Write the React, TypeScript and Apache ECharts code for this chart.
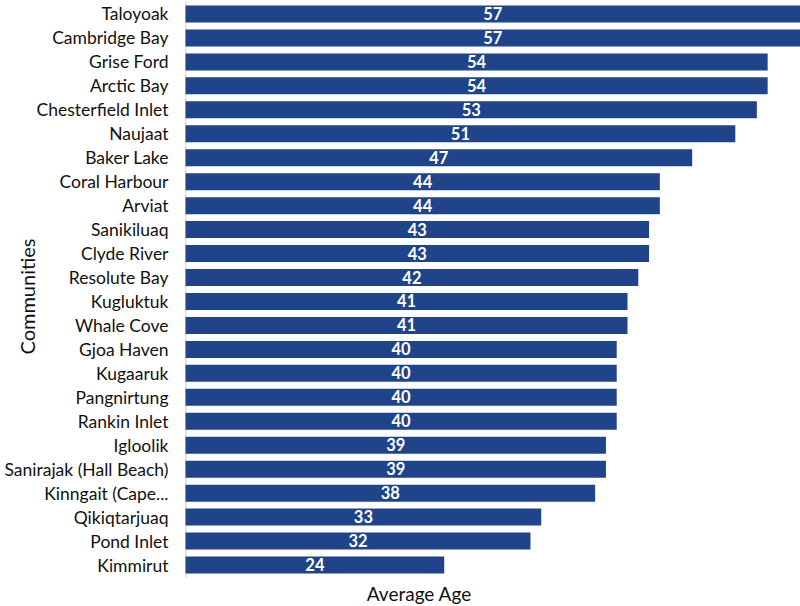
import React, { useEffect, useRef } from "react";
import * as echarts from "echarts";

const communities = [
  "Taloyoak",
  "Cambridge Bay",
  "Grise Ford",
  "Arctic Bay",
  "Chesterfield Inlet",
  "Naujaat",
  "Baker Lake",
  "Coral Harbour",
  "Arviat",
  "Sanikiluaq",
  "Clyde River",
  "Resolute Bay",
  "Kugluktuk",
  "Whale Cove",
  "Gjoa Haven",
  "Kugaaruk",
  "Pangnirtung",
  "Rankin Inlet",
  "Igloolik",
  "Sanirajak (Hall Beach)",
  "Kinngait (Cape...",
  "Qikiqtarjuaq",
  "Pond Inlet",
  "Kimmirut",
];

const averageAge = [57, 57, 54, 54, 53, 51, 47, 44, 44, 43, 43, 42, 41, 41, 40, 40, 40, 40, 39, 39, 38, 33, 32, 24];

const xTitle = "Average Age";
const yTitle = "Communities";

export default function App() {
  const ref = useRef<HTMLDivElement>(null);
  useEffect(() => {
    if (!ref.current) return;
    const chart = echarts.init(ref.current, undefined, { renderer: "svg" });
    chart.setOption({
      animation: false,
      grid: { left: 185.5, right: -3, top: 2, bottom: 29, containLabel: false },
      xAxis: {
        type: "value",
        min: 0,
        max: 57,
        axisLine: { show: false },
        axisTick: { show: false },
        axisLabel: { show: false },
        splitLine: { show: false },
      },
      yAxis: {
        type: "category",
        data: communities,
        inverse: true,
        axisLine: { show: true, lineStyle: { color: "#dcdcdc", width: 1.5 } },
        axisTick: { show: false },
        axisLabel: {
          margin: 17,
          fontFamily: "Lato",
          fontSize: 17.5,
          color: "#111111",
        },
      },
      series: [
        {
          type: "bar",
          data: averageAge,
          barCategoryGap: "29%",
          itemStyle: { color: "#1f4489" },
          label: {
            show: true,
            position: "inside",
            color: "#ffffff",
            fontFamily: "Lato",
            fontWeight: "bold",
            fontSize: 16.5,
          },
        },
      ],
      graphic: [
        {
          type: "text",
          x: 419,
          y: 593,
          style: {
            text: xTitle,
            fontFamily: "Lato",
            fontSize: 19,
            fill: "#111111",
            textAlign: "center",
            textVerticalAlign: "middle",
          },
        },
        {
          type: "text",
          x: 27,
          y: 296.5,
          rotation: Math.PI / 2,
          style: {
            text: yTitle,
            fontFamily: "Lato",
            fontSize: 20,
            fill: "#111111",
            textAlign: "center",
            textVerticalAlign: "middle",
          },
        },
      ],
    });
    return () => chart.dispose();
  }, []);
  return (
    <div
      ref={ref}
      style={{ position: "absolute", left: 0, top: 0, width: 800, height: 606 }}
    />
  );
}
